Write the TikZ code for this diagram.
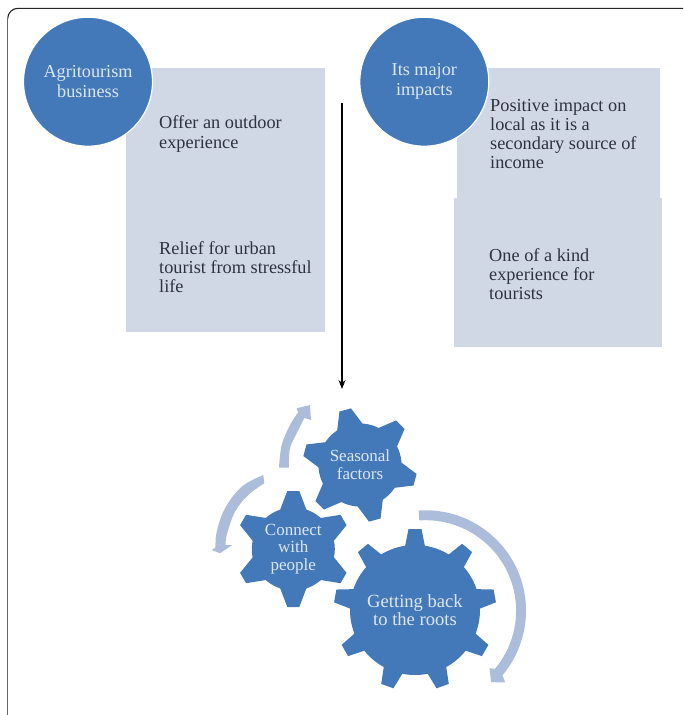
\documentclass[tikz,border=0pt]{standalone}
\usepackage{fontspec}
\setmainfont{Liberation Serif}
\usetikzlibrary{arrows.meta}
\definecolor{gearblue}{HTML}{4379B9}
\definecolor{panelblue}{HTML}{D0D8E6}
\definecolor{arcblue}{HTML}{ABBDDA}
\definecolor{lighttext}{HTML}{DDE7F4}
\definecolor{darktext}{HTML}{2F3340}
\tikzset{
  panel/.style={fill=panelblue,draw=none,inner sep=0pt},
  bluecircle/.style={circle,fill=gearblue,draw=white,line width=1.2pt,inner sep=0pt,minimum size=129pt,align=center,text=lighttext,font=\fontsize{18.2}{20}\selectfont},
  paneltext/.style={anchor=west,align=left,inner sep=0pt,text=darktext,font=\fontsize{18.3}{19.3}\selectfont},
  gearbody/.style={circle,fill=gearblue,inner sep=0pt,align=center,text=lighttext},
  geartext/.style={font=\fontsize{17}{17.8}\selectfont},
  bigtext/.style={font=\fontsize{18.6}{18.5}\selectfont},
  turnarrow/.style={fill=arcblue,draw=none}
}
\newcommand{\gearteeth}[7]{%
  \foreach \k in {1,...,#2}{%
    \begin{scope}[shift={(#1)},rotate={#3+(\k-1)*360/#2}]
      \fill[gearblue] (#4-4,-#6) -- (#5,-#7) -- (#5,#7) -- (#4-4,#6) -- cycle;
    \end{scope}
  }%
}
\begin{document}
\begin{tikzpicture}[x=1pt,y=1pt]
\useasboundingbox (0,0) rectangle (683,-715);
\fill[white] (0,0) rectangle (683,-715);
% frame
\coordinate (ftr) at (683,-8.3);
\coordinate (ftl) at (18,-8.3);
\coordinate (fbl) at (7.7,-715);
\coordinate (fcl) at (7.7,-19);
\draw[line width=1.1pt,black!85] (ftr) -- (ftl) arc[start angle=90,end angle=180,radius=10.3];
\draw[line width=1.1pt,black!60] (fcl) -- (fbl);
% panels
\node[panel,minimum width=199pt,minimum height=130pt] (p1) at (225.5,-133) {};
\node[panel,minimum width=199pt,minimum height=134pt] (p2) at (225.5,-265) {};
\node[panel,minimum width=203pt,minimum height=130pt] (p3) at (558.5,-133) {};
\node[panel,minimum width=208pt,minimum height=149pt] (p4) at (558,-272.5) {};
% circles
\node[bluecircle] (c1) at (88,-81.7) {Agritourism\\business};
\node[bluecircle] (c2) at (424.3,-81.7) {Its major\\impacts};
% panel text
\node[paneltext] (t1) at (159,-134) {Offer an outdoor\\experience};
\node[paneltext] (t2) at (159,-267) {Relief for urban\\tourist from stressful\\life};
\node[paneltext] (t3) at (490,-134) {Positive impact on\\local as it is a\\secondary source of\\income};
\node[paneltext] (t4) at (489,-274) {One of a kind\\experience for\\tourists};
% long arrow
\coordinate (atop) at (342,-103);
\coordinate (abot) at (342,-389);
\draw[line width=1.1pt,black,-{Stealth[length=9pt,width=7pt]}] (atop) -- (abot);
% gears
\coordinate (gs) at (360,-465);
\coordinate (gc) at (293.3,-549);
\coordinate (gb) at (415,-610);
\gearteeth{gs}{6}{105}{41}{57}{14}{6}
\gearteeth{gc}{6}{90}{41}{58}{14}{6}
\gearteeth{gb}{9}{90}{65}{81}{10.5}{6.5}
\node[gearbody,geartext,minimum size=83pt] (seasonal) at (gs) {Seasonal\\factors};
\node[gearbody,geartext,minimum size=83pt] (connect) at (gc) {Connect\\with\\people};
\node[gearbody,bigtext,minimum size=130pt] (roots) at (gb) {Getting back\\to the roots};
% turning arrows
\coordinate (bigc) at (425.6,-610.7);
\fill[turnarrow] ([shift={(bigc)}]94:100.4) arc[start angle=94,end angle=-40,radius=100.4]
  -- ([shift={(bigc)}]-42:107) -- ([shift={(bigc)}]-47.5:97) -- ([shift={(bigc)}]-42:86)
  -- ([shift={(bigc)}]-40:90.5) arc[start angle=-40,end angle=94,radius=90.5] -- cycle;
\fill[turnarrow] plot[smooth,tension=0.6] coordinates {(279,-467.7) (281.7,-445) (290,-425) (298,-412.5)}
  -- (296.7,-408.3) -- (310,-405) -- (311,-420) -- (304.3,-418)
  -- plot[smooth,tension=0.6] coordinates {(304.3,-418) (296.7,-433.3) (290,-448.3) (288.8,-467.7)} -- cycle;
\fill[turnarrow] plot[smooth,tension=0.6] coordinates {(263.3,-475) (241.7,-486.7) (225,-508.3) (216.7,-531.7) (215.5,-547.5)}
  -- (211.7,-550) -- (220,-553.3) -- (232.3,-545) -- (225.7,-545)
  -- plot[smooth,tension=0.6] coordinates {(225.7,-545) (226.7,-535) (235,-511.7) (248.3,-495) (264.3,-483.3)} -- cycle;
\end{tikzpicture}
\end{document}
